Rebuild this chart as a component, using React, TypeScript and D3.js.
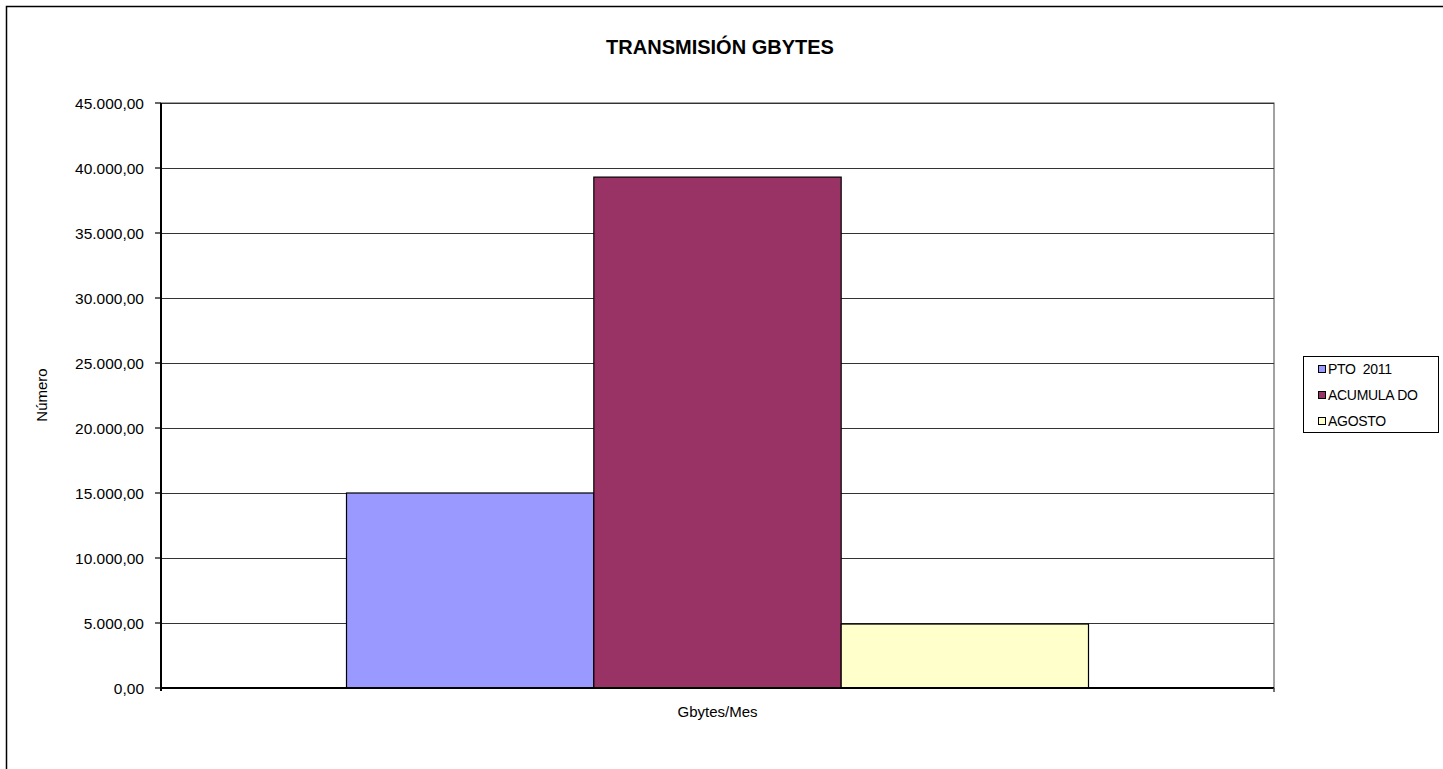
import React from "react";
import * as d3 from "d3";

const categories = ["Gbytes/Mes"];
const seriesNames = ["PTO  2011", "ACUMULA DO", "AGOSTO"];
const seriesValues = [15000, 39300, 4920];
const seriesColors = ["#9999FF", "#993366", "#FFFFCC"];
const yTicks = [0, 5000, 10000, 15000, 20000, 25000, 30000, 35000, 40000, 45000];
const title = "TRANSMISIÓN GBYTES";
const yTitle = "Número";

const W = 1443;
const H = 769;
const plot = { left: 161, right: 1274, top: 103, bottom: 688 };
const FONT = "'Liberation Sans', Arial, Helvetica, sans-serif";

const locale = d3.formatLocale({
  decimal: ",",
  thousands: ".",
  grouping: [3],
  currency: ["", ""],
});
const fmt = locale.format(",.2f");

export default function App() {
  const y = d3.scaleLinear().domain([0, 45000]).range([plot.bottom, plot.top]);
  const x0 = d3
    .scaleBand<string>()
    .domain(categories)
    .range([plot.left, plot.right])
    .paddingInner(0)
    .paddingOuter(0.25);
  const x1 = d3
    .scaleBand<string>()
    .domain(seriesNames)
    .range([0, x0.bandwidth()])
    .padding(0);

  const legendX = 1303;
  const legendY = 356;

  return (
    <svg
      width={W}
      height={H}
      style={{ position: "absolute", left: 0, top: 0, display: "block", background: "#fff" }}
      fontFamily={FONT}
    >
      <rect x={6.5} y={6.5} width={1460} height={800} fill="#fff" stroke="#000" strokeWidth={1.5} />
      <text x={720} y={54} textAnchor="middle" fontWeight="bold" fontSize={20} fill="#000">
        {title}
      </text>

      {/* plot area frame */}
      <rect
        x={plot.left}
        y={plot.top}
        width={plot.right - plot.left}
        height={plot.bottom - plot.top}
        fill="#fff"
        stroke="#444"
        strokeWidth={1}
      />

      {/* gridlines */}
      {yTicks.map((t) => (
        <line
          key={"g" + t}
          x1={plot.left}
          x2={plot.right}
          y1={Math.round(y(t)) + 0.5}
          y2={Math.round(y(t)) + 0.5}
          stroke="#333"
          strokeWidth={1.2}
        />
      ))}

      {/* bars */}
      {categories.map((c) =>
        seriesNames.map((s, i) => {
          const bx = (x0(c) ?? 0) + (x1(s) ?? 0);
          const by = y(seriesValues[i]);
          return (
            <rect
              key={c + s}
              x={bx}
              y={by}
              width={x1.bandwidth()}
              height={plot.bottom - by}
              fill={seriesColors[i]}
              stroke="#000"
              strokeWidth={1.2}
            />
          );
        })
      )}

      {/* y axis */}
      <line x1={plot.left} x2={plot.left} y1={plot.top} y2={plot.bottom + 3} stroke="#000" strokeWidth={2} />
      {yTicks.map((t) => (
        <g key={"t" + t}>
          <line x1={plot.left - 6} x2={plot.left} y1={y(t)} y2={y(t)} stroke="#000" strokeWidth={1.2} />
          <text
            x={plot.left - 17}
            y={y(t)}
            dy="0.36em"
            textAnchor="end"
            fontSize={15.5}
            fill="#000"
          >
            {fmt(t)}
          </text>
        </g>
      ))}

      {/* x axis */}
      <line x1={plot.left} x2={plot.right} y1={plot.bottom} y2={plot.bottom} stroke="#000" strokeWidth={2} />
      <line x1={plot.right} x2={plot.right} y1={plot.bottom} y2={plot.bottom + 4} stroke="#444" strokeWidth={1.5} />
      {categories.map((c) => (
        <text
          key={"xl" + c}
          x={(x0(c) ?? 0) + x0.bandwidth() / 2}
          y={717}
          textAnchor="middle"
          fontSize={15}
          fill="#000"
        >
          {c}
        </text>
      ))}

      {/* y title */}
      <text
        transform={`translate(47, 395) rotate(-90)`}
        textAnchor="middle"
        fontSize={15}
        fill="#000"
      >
        {yTitle}
      </text>

      {/* legend */}
      <rect x={legendX + 0.5} y={legendY + 0.5} width={135} height={76} fill="#fff" stroke="#000" strokeWidth={1} />
      {seriesNames.map((s, i) => {
        const cy = 369 + i * 26;
        return (
          <g key={"lg" + s}>
            <rect x={1318.5} y={cy - 3.5} width={7} height={7} fill={seriesColors[i]} stroke="#000" strokeWidth={1} />
            <text
              x={1328}
              y={cy}
              dy="0.36em"
              fontSize={14}
              fill="#000"
              letterSpacing={-0.3}
              style={{ whiteSpace: "pre" }}
            >
              {s}
            </text>
          </g>
        );
      })}
    </svg>
  );
}
